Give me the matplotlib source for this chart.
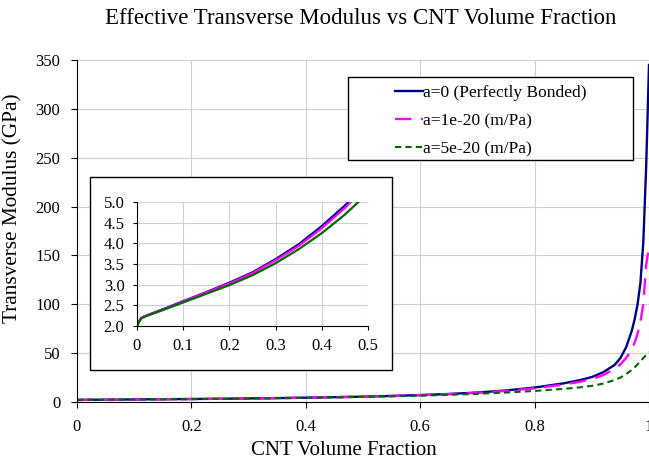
import matplotlib
matplotlib.use('Agg')
import matplotlib.pyplot as plt
from matplotlib.patches import Rectangle

plt.rcParams['font.family'] = ['Liberation Serif', 'DejaVu Serif']

# volume fraction points
vf = [0, 0.005, 0.01, 0.02, 0.05, 0.1, 0.15, 0.2, 0.25, 0.3, 0.35, 0.4, 0.45, 0.5,
      0.55, 0.6, 0.65, 0.7, 0.75, 0.8, 0.85, 0.88, 0.9, 0.92, 0.94, 0.95, 0.96,
      0.97, 0.975, 0.98, 0.985, 0.99, 0.995, 1.0]

# a=0 perfectly bonded
e_bonded = [2.0, 2.12, 2.2, 2.25, 2.38, 2.6, 2.82, 3.05, 3.3, 3.62, 3.98, 4.42, 4.92, 5.5,
            6.2, 7.1, 8.2, 9.7, 11.8, 14.8, 19.0, 22.5, 25.5, 30.5, 38, 45, 56,
            73, 85, 100, 122, 163, 240, 345]
# a=1e-20
e_a1 = [2.0, 2.12, 2.2, 2.25, 2.37, 2.59, 2.81, 3.03, 3.28, 3.59, 3.94, 4.37, 4.86, 5.43,
        6.1, 6.95, 8.0, 9.4, 11.3, 14.0, 17.8, 20.8, 23.5, 27.5, 34, 38.5, 45,
        54, 61, 70, 82, 100, 140, 159]
# a=5e-20
e_a5 = [2.0, 2.11, 2.19, 2.24, 2.36, 2.57, 2.78, 2.99, 3.23, 3.52, 3.86, 4.25, 4.7, 5.22,
        5.8, 6.5, 7.35, 8.4, 9.7, 11.3, 13.4, 15.0, 16.5, 18.8, 22.5, 25, 28.5,
        33, 35.5, 38.5, 41.5, 45, 48, 51]

labels = ['a=0 (Perfectly Bonded)', 'a=1e-20 (m/Pa)', 'a=5e-20 (m/Pa)']
colors = ['#000080', '#FF00FF', '#006600']

fig = plt.figure(figsize=(6.49, 4.62), dpi=100)
ax = fig.add_axes([0.1186, 0.1299, 0.8814, 0.740])

ax.plot(vf, e_bonded, color=colors[0], lw=1.7, label=labels[0])
ax.plot(vf, e_a1, color=colors[1], lw=1.7, dashes=(7, 4), label=labels[1])
ax.plot(vf, e_a5, color=colors[2], lw=1.5, dashes=(3, 2), label=labels[2])

ax.set_xlim(0, 1)
ax.set_ylim(0, 350)
ax.set_xticks([0, 0.2, 0.4, 0.6, 0.8, 1.0])
ax.set_xticklabels(['0', '0.2', '0.4', '0.6', '0.8', '1'])
ax.set_yticks(range(0, 351, 50))
ax.grid(True, color='#d0d0d0', lw=0.8)
ax.set_axisbelow(True)
for s in ['top', 'right']:
    ax.spines[s].set_visible(False)
ax.tick_params(labelsize=12, length=4, pad=8)
ax.set_xlabel('CNT Volume Fraction', fontsize=15, va='center')
ax.xaxis.set_label_coords(0.467, -0.141)
ax.set_ylabel('Transverse Modulus (GPa)', fontsize=15.3)
ax.yaxis.set_label_coords(-0.096, 0.567)
fig.text(0.555, 0.961, 'Effective Transverse Modulus vs CNT Volume Fraction',
         fontsize=16.5, ha='center', va='center')

# legend box drawn separately to get the wide padding
ax.add_patch(Rectangle((0.474, 0.708), 0.498, 0.242, transform=ax.transAxes,
                       facecolor='white', edgecolor='black', lw=1.0, zorder=4))
leg = ax.legend(loc='center left', bbox_to_anchor=(0.541, 0.822), fontsize=12.5,
                frameon=False, handlelength=1.6, handletextpad=0.0, borderpad=0,
                labelspacing=0.7)
leg.set_zorder(5)

# inset frame
fig.patches.append(Rectangle((0.1387, 0.199), 0.465, 0.418, transform=fig.transFigure,
                             facecolor='white', edgecolor='black', lw=1.0, zorder=5))
ins = fig.add_axes([0.211, 0.2944, 0.356, 0.268])
ins.set_zorder(6)
ins.plot(vf, e_bonded, color=colors[0], lw=1.6)
ins.plot(vf, e_a1, color=colors[1], lw=1.6)
ins.plot(vf, e_a5, color=colors[2], lw=1.6)
ins.set_xlim(0, 0.5)
ins.set_ylim(2.0, 5.0)
ins.set_xticks([0, 0.1, 0.2, 0.3, 0.4, 0.5])
ins.set_xticklabels(['0', '0.1', '0.2', '0.3', '0.4', '0.5'])
ins.set_yticks([2.0, 2.5, 3.0, 3.5, 4.0, 4.5, 5.0])
ins.set_yticklabels(['2.0', '2.5', '3.0', '3.5', '4.0', '4.5', '5.0'])
ins.grid(True, color='#d0d0d0', lw=0.8)
ins.set_axisbelow(True)
for s in ['top', 'right']:
    ins.spines[s].set_visible(False)
ins.tick_params(labelsize=12, length=3, pad=6)

fig.savefig('out.png', dpi=100)
